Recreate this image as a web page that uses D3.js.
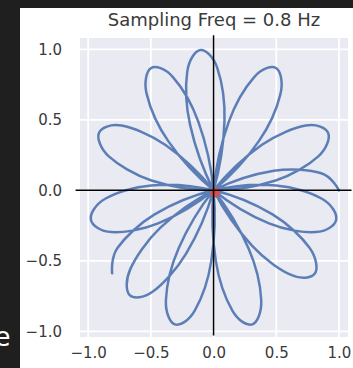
<!DOCTYPE html>
<html>
<head>
<meta charset="utf-8">
<script src="https://cdn.jsdelivr.net/npm/d3@7"></script>
<style>
    html, body { margin: 0; padding: 0; background: #1f1f1f; }
    svg { display: block; }
</style>
</head>
<body>
<script>
// Wound signal (x, y pairs in data units)
const curveX = [
    1.000, 0.858, 0.481, 0.000, -0.424, -0.663, -0.669, -0.484, -0.219, 0.000,
    0.087, 0.030, -0.105, -0.210, -0.187, 0.000, 0.308, 0.623, 0.809, 0.765,
    0.470, 0.000, -0.499, -0.864, -0.978, -0.814, -0.442, 0.000, 0.360, 0.533,
    0.500, 0.324, 0.121, 0.000, 0.018, 0.150, 0.309, 0.380, 0.280, 0.000,
    -0.383, -0.734, -0.914, -0.833, -0.495, 0.000, 0.495, 0.833, 0.914, 0.734,
    0.383, 0.000, -0.280, -0.380, -0.309, -0.150, -0.018, 0.000, -0.121, -0.324,
    -0.500, -0.533, -0.360, 0.000, 0.442, 0.814, 0.978, 0.864, 0.499, 0.000,
    -0.470, -0.765, -0.809
];
const curveY = [
    0.000, 0.121, 0.138, 0.000, -0.265, -0.557, -0.743, -0.718, -0.449, 0.000,
    0.492, 0.866, 0.995, 0.840, 0.464, 0.000, -0.394, -0.602, -0.588, -0.407,
    -0.171, 0.000, 0.035, -0.060, -0.208, -0.296, -0.235, 0.000, 0.347, 0.682,
    0.866, 0.803, 0.485, 0.000, -0.500, -0.853, -0.951, -0.778, -0.415, 0.000,
    0.321, 0.459, 0.407, 0.239, 0.070, 0.000, 0.070, 0.239, 0.407, 0.459,
    0.321, 0.000, -0.415, -0.778, -0.951, -0.853, -0.500, 0.000, 0.485, 0.803,
    0.866, 0.682, 0.347, 0.000, -0.235, -0.296, -0.208, -0.060, 0.035, 0.000,
    -0.171, -0.407, -0.588
];

// Red marker near the origin
const centerPoint = [0.012, -0.016];

const xTicks = [-1.0, -0.5, 0.0, 0.5, 1.0];
const yTicks = [-1.0, -0.5, 0.0, 0.5, 1.0];
const TITLE = "Sampling Freq = 0.8 Hz";

const WIDTH = 353;
const HEIGHT = 368;

const PLOT_LEFT = 80;
const PLOT_RIGHT = 348;
const PLOT_TOP = 38;
const PLOT_BOTTOM = 337;

const X_DOMAIN = [-1.065, 1.072];
const Y_DOMAIN = [-1.04, 1.08];

const FONT = "'DejaVu Sans', sans-serif";
const TEXT_COLOR = "#3a3a3a";
const PLOT_BG = "#eaeaf2";
const LINE_COLOR = "#4c72b0";
const DOT_COLOR = "#d0504f";

const svg = d3.select("body").append("svg")
    .attr("width", WIDTH)
    .attr("height", HEIGHT);

// Dark surround with the white figure cut into it
svg.append("rect")
    .attr("width", WIDTH)
    .attr("height", HEIGHT)
    .attr("fill", "#1f1f1f");

svg.append("rect")
    .attr("x", 20)
    .attr("y", 8)
    .attr("width", WIDTH - 20)
    .attr("height", HEIGHT - 8)
    .attr("fill", "#ffffff");

// Stray glyph of a neighbouring label, cut off at the left edge
svg.append("text")
    .attr("x", 10.5)
    .attr("y", 346)
    .attr("text-anchor", "end")
    .style("font-family", FONT)
    .style("font-size", "26px")
    .style("fill", "#ffffff")
    .text("e");

const xScale = d3.scaleLinear().domain(X_DOMAIN).range([PLOT_LEFT, PLOT_RIGHT]);
const yScale = d3.scaleLinear().domain(Y_DOMAIN).range([PLOT_BOTTOM, PLOT_TOP]);

svg.append("rect")
    .attr("x", PLOT_LEFT)
    .attr("y", PLOT_TOP)
    .attr("width", PLOT_RIGHT - PLOT_LEFT)
    .attr("height", PLOT_BOTTOM - PLOT_TOP)
    .attr("fill", PLOT_BG);

// Grid (seaborn darkgrid style)
const grid = svg.append("g");
grid.selectAll("none")
    .data(xTicks)
    .join("line")
    .attr("x1", d => xScale(d))
    .attr("x2", d => xScale(d))
    .attr("y1", PLOT_TOP)
    .attr("y2", PLOT_BOTTOM)
    .attr("stroke", "#ffffff")
    .attr("stroke-width", 1.8);

grid.selectAll("none")
    .data(yTicks)
    .join("line")
    .attr("x1", PLOT_LEFT)
    .attr("x2", PLOT_RIGHT)
    .attr("y1", d => yScale(d))
    .attr("y2", d => yScale(d))
    .attr("stroke", "#ffffff")
    .attr("stroke-width", 1.8);

// Axes: labels only, no domain line or tick marks
const xAxis = svg.append("g")
    .attr("transform", `translate(0, ${PLOT_BOTTOM})`)
    .call(d3.axisBottom(xScale).tickValues(xTicks).tickSize(0).tickPadding(10)
        .tickFormat(d3.format(".1f")));

const yAxis = svg.append("g")
    .attr("transform", `translate(${PLOT_LEFT}, 0)`)
    .call(d3.axisLeft(yScale).tickValues(yTicks).tickSize(0).tickPadding(18)
        .tickFormat(d3.format(".1f")));

[xAxis, yAxis].forEach(axis => {
    axis.select(".domain").remove();
    axis.selectAll("text")
        .style("font-family", FONT)
        .style("font-size", "15px")
        .style("fill", TEXT_COLOR);
});

// The wound curve
const points = curveX.map((x, idx) => [x, curveY[idx]]);
const line = d3.line()
    .x(d => xScale(d[0]))
    .y(d => yScale(d[1]))
    .curve(d3.curveCardinal.tension(0));

svg.append("path")
    .datum(points)
    .attr("d", line)
    .attr("fill", "none")
    .attr("stroke", LINE_COLOR)
    .attr("stroke-opacity", 0.9)
    .attr("stroke-width", 2.5)
    .attr("stroke-linejoin", "round")
    .attr("stroke-linecap", "round");

svg.append("circle")
    .attr("cx", xScale(centerPoint[0]))
    .attr("cy", yScale(centerPoint[1]))
    .attr("r", 5)
    .attr("fill", DOT_COLOR);

// Black cross through the origin
svg.append("line")
    .attr("x1", xScale(-1.1))
    .attr("x2", xScale(1.1))
    .attr("y1", yScale(0))
    .attr("y2", yScale(0))
    .attr("stroke", "#000000")
    .attr("stroke-width", 1.5);

svg.append("line")
    .attr("x1", xScale(0))
    .attr("x2", xScale(0))
    .attr("y1", yScale(1.1))
    .attr("y2", yScale(-1.03))
    .attr("stroke", "#000000")
    .attr("stroke-width", 1.5);

svg.append("text")
    .attr("x", (PLOT_LEFT + PLOT_RIGHT) / 2)
    .attr("y", 26)
    .attr("text-anchor", "middle")
    .style("font-family", FONT)
    .style("font-size", "18px")
    .style("fill", TEXT_COLOR)
    .text(TITLE);
</script>
</body>
</html>
